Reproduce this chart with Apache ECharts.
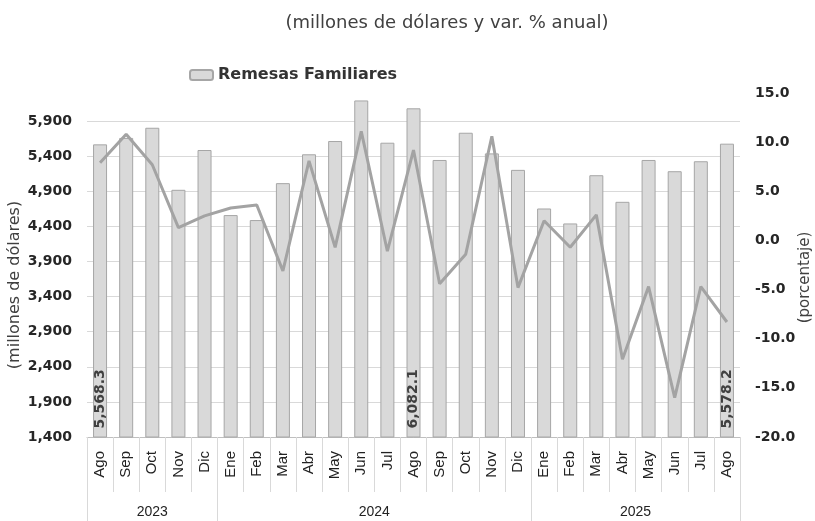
<!DOCTYPE html>
<html>
<head>
<meta charset="utf-8">
<script src="https://cdn.jsdelivr.net/npm/echarts@6/dist/echarts.min.js"></script>
<style>
  html, body { margin: 0; padding: 0; background: #fff; }
  #chart { width: 815px; height: 521px; }
</style>
</head>
<body>
<div id="chart"></div>
<script>
// meses (ago 2023 - ago 2025)
const months = ['Ago','Sep','Oct','Nov','Dic','Ene','Feb','Mar','Abr','May','Jun','Jul',
                'Ago','Sep','Oct','Nov','Dic','Ene','Feb','Mar','Abr','May','Jun','Jul','Ago'];
const years = ['2023', '2024', '2025'];
const yearMonths = [5, 12, 8];

// remesas familiares (millones de dólares)
const remesas = [5568.3, 5660, 5805, 4921, 5488, 4561, 4490, 5016, 5427, 5616, 6194, 5592,
                 6082.1, 5346, 5734, 5440, 5205, 4655, 4442, 5129, 4750, 5346, 5186, 5328, 5578.2];
// var. % anual
const variacion = [7.9, 10.8, 7.7, 1.3, 2.5, 3.3, 3.6, -3.1, 8.1, -0.7, 11.1, -1.1,
                   9.2, -4.4, -1.4, 10.6, -4.8, 2.0, -0.7, 2.6, -12.1, -4.7, -16.0, -4.7, -8.3];

// indices con etiqueta
const labelIdx = [0, 12, 24];

const txt = '#404040';
const gothic = 'DejaVu Sans';

// eje de años: 2 puntos por mes (boundaryGap false)
const yearData = [];
const yearLabelPos = {};
const yearTickPos = [0];
let acc = 0;
years.forEach((y, i) => {
    yearLabelPos[acc * 2 + yearMonths[i]] = y;
    acc += yearMonths[i];
    yearTickPos.push(acc * 2);
});
for (let k = 0; k <= months.length * 2; k++) {
    yearData.push(yearLabelPos[k] || '');
}

const chart = echarts.init(document.getElementById('chart'));
chart.setOption({
    animation: false,
    title: {
        text: '(millones de dólares y var. % anual)',
        left: 442,
        textAlign: 'center',
        top: 9,
        textStyle: { fontFamily: gothic, fontSize: 18, fontWeight: 'normal', color: txt }
    },
    legend: {
        data: ['Remesas Familiares'],
        left: 184,
        top: 62,
        itemWidth: 23,
        itemHeight: 10,
        itemGap: 4,
        textStyle: { fontFamily: gothic, fontSize: 16, fontWeight: 'bold', color: '#333' }
    },
    grid: { left: 87, right: 75, top: 93, bottom: 84, outerBoundsMode: 'none' },
    xAxis: [{
        type: 'category',
        data: months,
        axisLine: { onZero: false, lineStyle: { color: '#bfbfbf' } },
        axisTick: { show: true, interval: 0, length: 55, lineStyle: { color: '#d9d9d9' } },
        axisLabel: {
            interval: 0, rotate: 90, margin: 14,
            fontFamily: 'Liberation Sans', fontSize: 15, color: '#222'
        }
    }, {
        type: 'category',
        data: yearData,
        boundaryGap: false,
        position: 'bottom',
        axisLine: { show: false, onZero: false },
        axisTick: {
            show: true, length: 86,
            interval: (i) => yearTickPos.indexOf(i) >= 0,
            lineStyle: { color: '#d9d9d9' }
        },
        axisLabel: {
            interval: (i, v) => v !== '',
            margin: 68,
            fontFamily: 'Liberation Sans', fontSize: 14, color: '#222'
        }
    }],
    yAxis: [{
        type: 'value',
        min: 1400, max: 6300, interval: 500,
        name: '(millones de dólares)',
        nameLocation: 'middle',
        nameGap: 64,
        nameMoveOverlap: false,
        nameTextStyle: { fontFamily: gothic, fontSize: 16, color: txt, padding: [0, 0, 0, -40] },
        axisLine: { show: false },
        axisTick: { show: false },
        splitLine: { showMaxLine: false, lineStyle: { color: '#d9d9d9' } },
        axisLabel: {
            showMaxLabel: false, margin: 15,
            fontFamily: gothic, fontSize: 14, fontWeight: 'bold', color: '#262626',
            formatter: (v) => v.toLocaleString('en-US')
        }
    }, {
        type: 'value',
        min: -20, max: 15, interval: 5,
        name: '(porcentaje)',
        nameLocation: 'middle',
        nameGap: 58,
        nameRotate: 90,
        nameMoveOverlap: false,
        nameTextStyle: { fontFamily: gothic, fontSize: 15, color: txt, padding: [0, 0, 0, -25] },
        axisLine: { show: false },
        axisTick: { show: false },
        splitLine: { show: false },
        axisLabel: {
            margin: 15,
            fontFamily: gothic, fontSize: 14, fontWeight: 'bold', color: '#262626',
            formatter: (v) => v.toFixed(1)
        }
    }],
    series: [{
        name: 'Remesas Familiares',
        type: 'bar',
        data: remesas,
        barWidth: 14,
        itemStyle: { color: '#d9d9d9', borderColor: '#a6a6a6', borderWidth: 1 },
        label: {
            show: true,
            position: 'insideBottom',
            rotate: 90,
            align: 'left',
            verticalAlign: 'middle',
            distance: 9,
            fontFamily: gothic, fontSize: 14, fontWeight: 'bold', color: txt,
            formatter: (p) => labelIdx.indexOf(p.dataIndex) >= 0
                ? p.value.toLocaleString('en-US', { minimumFractionDigits: 1, maximumFractionDigits: 1 })
                : ''
        }
    }, {
        name: 'Var. % anual',
        type: 'line',
        yAxisIndex: 1,
        data: variacion.map((v, i) => {
            if (i === 0) return { value: v, label: { show: true, position: 'bottom', offset: [4, 2] } };
            if (i === 12) return { value: v, label: { show: true, position: 'top' } };
            if (i === 24) return { value: v, label: { show: true, position: 'right', distance: 10 } };
            return v;
        }),
        symbol: 'none',
        lineStyle: { color: '#a3a3a3', width: 3 },
        label: {
            show: false,
            fontFamily: gothic, fontSize: 16, fontWeight: 'bold', color: '#595959',
            formatter: (p) => p.value.toFixed(1)
        }
    }]
});
</script>
</body>
</html>
